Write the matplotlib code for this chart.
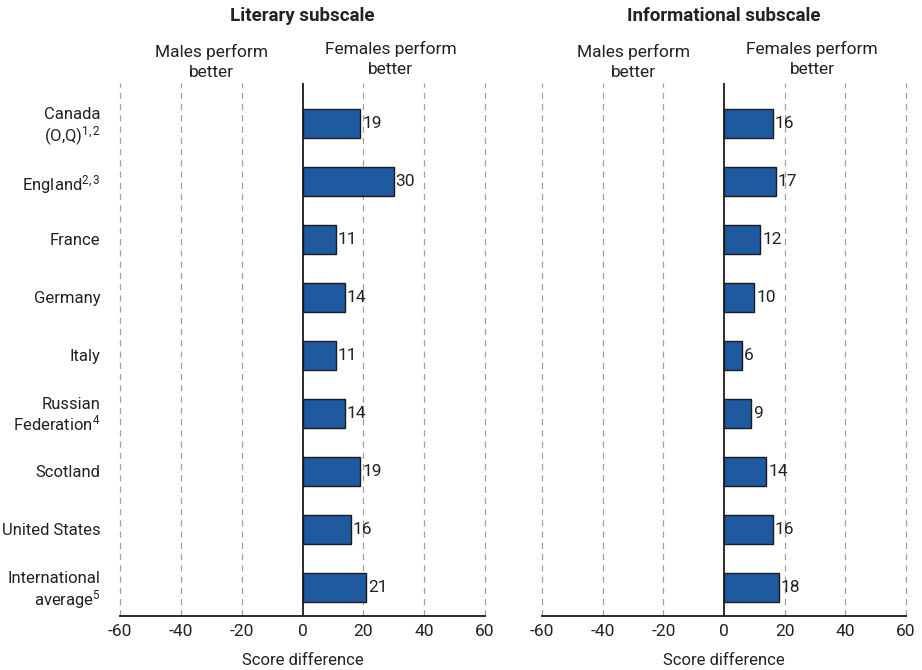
import matplotlib
matplotlib.use('Agg')
import matplotlib.pyplot as plt

plt.rcParams['font.family'] = ['Roboto', 'DejaVu Sans']
plt.rcParams['mathtext.fontset'] = 'custom'
plt.rcParams['mathtext.rm'] = 'Roboto'
plt.rcParams['mathtext.it'] = 'Roboto'

# Data
countries = ['Canada\n(O,Q)$^{1,2}$', 'England$^{2,3}$', 'France', 'Germany', 'Italy',
             'Russian\nFederation$^{4}$', 'Scotland', 'United States',
             'International\naverage$^{5}$']
literary = [19, 30, 11, 14, 11, 14, 19, 16, 21]
informational = [16, 17, 12, 10, 6, 9, 14, 16, 18]
titles = ['Literary subscale', 'Informational subscale']
ticks = [-60, -40, -20, 0, 20, 40, 60]

bar_color = '#1f5aa0'
text_color = '#222222'

fig = plt.figure(figsize=(9.22, 6.7), dpi=100)
ax1 = fig.add_axes([120 / 922, 1 - 616 / 670, 365 / 922, 533 / 670])
ax2 = fig.add_axes([542 / 922, 1 - 616 / 670, 364 / 922, 533 / 670])

ypos = list(range(len(countries)))

for ax, vals, title in [(ax1, literary, titles[0]), (ax2, informational, titles[1])]:
    ax.barh(ypos, vals, height=0.5, color=bar_color, edgecolor='#1a1a1a',
            linewidth=1.0, zorder=3)
    for y, v in zip(ypos, vals):
        ax.text(v + 0.6, y, str(v), va='center', ha='left', fontsize=12.5,
                color=text_color, zorder=4)
    for t in ticks:
        if t != 0:
            ax.axvline(t, color='#a0a0a0', linestyle=(0, (5, 4)),
                       linewidth=0.9, zorder=1, clip_on=False)
    ax.axvline(0, color='#1a1a1a', linewidth=1.3, zorder=5)
    ax.set_xlim(-60, 60)
    ax.set_ylim(len(countries) - 0.5, -0.7)
    ax.set_xticks(ticks)
    ax.set_xticklabels([str(t) for t in ticks], fontsize=12.5, color=text_color)
    ax.tick_params(axis='x', length=0, pad=6)
    ax.tick_params(axis='y', length=0)
    for s in ['top', 'right', 'left']:
        ax.spines[s].set_visible(False)
    ax.spines['bottom'].set_linewidth(1.3)
    ax.spines['bottom'].set_color('#1a1a1a')
    ax.set_xlabel('Score difference', fontsize=12, color=text_color, labelpad=10)
    ax.text(0, 1.125, title, transform=ax.get_xaxis_transform(), ha='center',
            va='center', fontsize=13.5, fontweight='bold', color=text_color)
    ax.text(-30, 1.04, 'Males perform\nbetter', transform=ax.get_xaxis_transform(),
            ha='center', va='center', fontsize=12.5, color=text_color,
            linespacing=1.4)
    ax.text(29, 1.045, 'Females perform\nbetter', transform=ax.get_xaxis_transform(),
            ha='center', va='center', fontsize=12.5, color=text_color,
            linespacing=1.4)

ax1.set_yticks(ypos)
ax1.set_yticklabels(countries, fontsize=12, color=text_color, linespacing=1.1)
ax1.tick_params(axis='y', pad=14)
ax2.set_yticks([])

fig.savefig('out.png', dpi=100)
